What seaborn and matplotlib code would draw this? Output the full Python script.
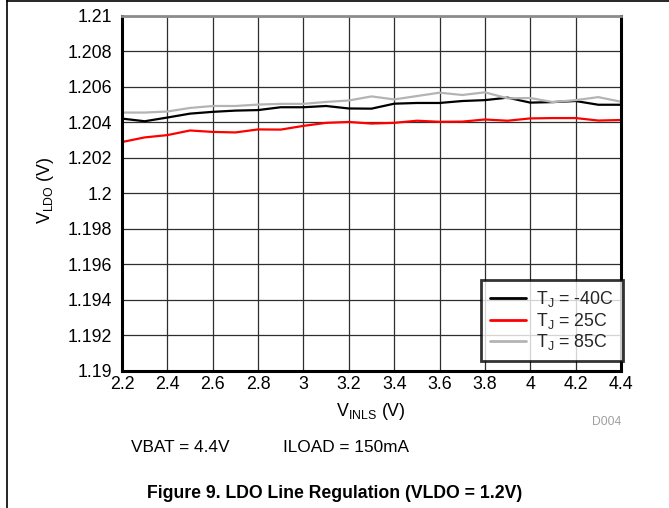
import matplotlib
matplotlib.use("Agg")
import matplotlib.pyplot as plt
from matplotlib.lines import Line2D
import seaborn as sns
import pandas as pd

# ---- data ----
vin = [2.2, 2.3, 2.4, 2.5, 2.6, 2.7, 2.8, 2.9, 3.0, 3.1, 3.2, 3.3,
       3.4, 3.5, 3.6, 3.7, 3.8, 3.9, 4.0, 4.1, 4.2, 4.3, 4.4]
v_m40 = [1.20422, 1.20407, 1.20428, 1.20450, 1.20460, 1.20467, 1.20470, 1.20486,
         1.20486, 1.20493, 1.20479, 1.20478, 1.20506, 1.20510, 1.20510, 1.20521,
         1.20526, 1.20540, 1.20512, 1.20515, 1.20521, 1.20500, 1.20500]
v_25 = [1.20290, 1.20316, 1.20329, 1.20355, 1.20347, 1.20344, 1.20361, 1.20360,
        1.20381, 1.20398, 1.20403, 1.20394, 1.20398, 1.20410, 1.20404, 1.20405,
        1.20417, 1.20410, 1.20423, 1.20425, 1.20425, 1.20411, 1.20414]
v_85 = [1.20456, 1.20456, 1.20462, 1.20482, 1.20493, 1.20493, 1.20501, 1.20505,
        1.20505, 1.20516, 1.20524, 1.20547, 1.20530, 1.20549, 1.20568, 1.20555,
        1.20570, 1.20536, 1.20538, 1.20515, 1.20526, 1.20543, 1.20517]
series_labels = [r"T$_\mathregular{J}$ = -40C", r"T$_\mathregular{J}$ = 25C",
                 r"T$_\mathregular{J}$ = 85C"]
series_colors = ["#000000", "#ff0000", "#b4b4b4"]
xticks = [2.2, 2.4, 2.6, 2.8, 3.0, 3.2, 3.4, 3.6, 3.8, 4.0, 4.2, 4.4]
yticks = [1.19, 1.192, 1.194, 1.196, 1.198, 1.2, 1.202, 1.204, 1.206, 1.208, 1.21]

def fmt(v, nd):
    s = f"{v:.{nd}f}".rstrip("0").rstrip(".")
    return s

df = pd.concat([
    pd.DataFrame({"vin": vin, "vldo": vals, "series": lab})
    for vals, lab in zip([v_m40, v_25, v_85], series_labels)
])

sns.set_theme(style="white")
plt.rcParams["font.family"] = ["Liberation Sans", "DejaVu Sans"]
plt.rcParams["mathtext.default"] = "regular"

W, H = 669, 508
fig = plt.figure(figsize=(W / 100, H / 100), dpi=100)
ax = fig.add_axes([122 / W, 1 - 371 / H, (621 - 122) / W, (371 - 16) / H])

sns.lineplot(data=df, x="vin", y="vldo", hue="series", hue_order=series_labels,
             palette=series_colors, linewidth=1.6, ax=ax, legend=True)

ax.set_xlim(2.2, 4.4)
ax.set_ylim(1.19, 1.21)
ax.set_xticks(xticks)
ax.set_xticklabels([fmt(v, 1) for v in xticks])
ax.set_yticks(yticks)
ax.set_yticklabels([fmt(v, 3) for v in yticks])
ax.tick_params(axis="both", length=0, labelsize=12.8, colors="black")
ax.tick_params(axis="y", pad=7)
ax.tick_params(axis="x", pad=3.5)
ax.grid(True, color="#2e2e2e", linewidth=0.9)
ax.set_axisbelow(True)
for s in ["left", "bottom", "right"]:
    ax.spines[s].set_color("black")
    ax.spines[s].set_linewidth(2.2)
ax.spines["top"].set_color("#8c8c8c")
ax.spines["top"].set_linewidth(2.0)

ax.set_xlabel(r"V$_{INLS}$ (V)", fontsize=12.8, color="black")
ax.set_ylabel(r"V$_{LDO}$ (V)", fontsize=12.8, color="black")
ax.xaxis.set_label_coords((371 - 122) / (621 - 122), -(411 - 371) / (371 - 16))
ax.yaxis.set_label_coords(-(122 - 46) / (621 - 122), (371 - 190) / (371 - 16))
ax.xaxis.label.set_va("center")
ax.yaxis.label.set_va("center")

leg = ax.legend(loc="lower right", bbox_to_anchor=(1.004, 0.028), fontsize=12.8,
                frameon=True, fancybox=False, handlelength=2.0, handletextpad=0.6,
                borderpad=0.5, labelspacing=0.08, borderaxespad=0.0)
leg.get_frame().set_edgecolor("black")
leg.get_frame().set_linewidth(2.0)
for h in leg.get_lines():
    h.set_linewidth(2.0)

fig.text(621 / W, 1 - 422 / H, "D004", ha="right", va="center", fontsize=8.7,
         color="#a0a0a0")
fig.text(131 / W, 1 - 447 / H, "VBAT = 4.4V", ha="left", va="center",
         fontsize=12.4, color="black")
fig.text(283 / W, 1 - 447 / H, "ILOAD = 150mA", ha="left", va="center",
         fontsize=12.4, color="black")
fig.text(335 / W, 1 - 494 / H, "Figure 9. LDO Line Regulation (VLDO = 1.2V)",
         ha="center", va="center", fontsize=12.7, fontweight="bold", color="black")

# page border lines (left and top)
fig.add_artist(Line2D([7 / W, 7 / W], [0, 1], transform=fig.transFigure,
                      color="black", linewidth=1.2))
fig.add_artist(Line2D([7 / W, 1], [1 - 1 / H, 1 - 1 / H], transform=fig.transFigure,
                      color="black", linewidth=1.2))

fig.savefig("out.png", dpi=100)
